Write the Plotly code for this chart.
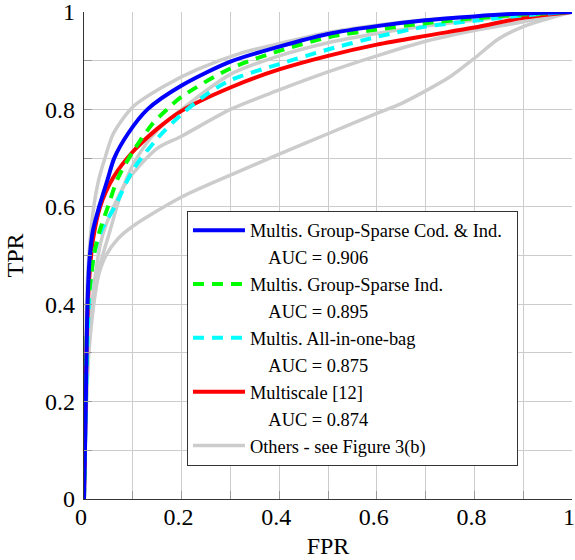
import plotly.graph_objects as go

# ---- data ----
blue_fpr = [0, 0.003, 0.006, 0.009, 0.012, 0.018, 0.031, 0.048, 0.062, 0.09, 0.13, 0.2, 0.3, 0.4, 0.5, 0.6, 0.7, 0.8, 0.9, 1]
blue_tpr = [0, 0.15, 0.35, 0.45, 0.5, 0.55, 0.6, 0.655, 0.7, 0.75, 0.8, 0.849, 0.898, 0.929, 0.955, 0.971, 0.983, 0.991, 0.997, 1]

green_fpr = [0, 0.004, 0.008, 0.015, 0.02, 0.032, 0.049, 0.07, 0.1, 0.14, 0.17, 0.2, 0.3, 0.4, 0.5, 0.6, 0.7, 0.8, 0.9, 1]
green_tpr = [0, 0.25, 0.4, 0.46, 0.5, 0.55, 0.6, 0.66, 0.713, 0.77, 0.8, 0.826, 0.884, 0.92, 0.948, 0.964, 0.977, 0.987, 0.995, 1]

cyan_fpr = [0, 0.004, 0.008, 0.012, 0.02, 0.035, 0.063, 0.1, 0.15, 0.2, 0.25, 0.3, 0.4, 0.5, 0.6, 0.7, 0.8, 0.9, 1]
cyan_tpr = [0, 0.2, 0.35, 0.43, 0.5, 0.55, 0.6, 0.675, 0.74, 0.79, 0.83, 0.86, 0.893, 0.923, 0.949, 0.97, 0.982, 0.993, 1]

red_fpr = [0, 0.004, 0.008, 0.012, 0.018, 0.033, 0.06, 0.1, 0.15, 0.2, 0.3, 0.4, 0.5, 0.6, 0.7, 0.8, 0.9, 1]
red_tpr = [0, 0.25, 0.4, 0.47, 0.53, 0.6, 0.66, 0.713, 0.76, 0.797, 0.845, 0.882, 0.91, 0.933, 0.951, 0.968, 0.988, 1]

others = [
    ([0, 0.002, 0.005, 0.01, 0.02, 0.03, 0.043, 0.06, 0.1, 0.163, 0.23, 0.32, 0.4, 0.5, 0.6, 0.7, 0.8, 0.9, 1],
     [0, 0.2, 0.4, 0.5, 0.6, 0.655, 0.7, 0.75, 0.805, 0.847, 0.881, 0.915, 0.935, 0.958, 0.973, 0.984, 0.991, 0.997, 1]),
    ([0, 0.005, 0.012, 0.019, 0.03, 0.053, 0.08, 0.108, 0.15, 0.2, 0.3, 0.4, 0.5, 0.6, 0.7, 0.8, 0.9, 1],
     [0, 0.25, 0.36, 0.41, 0.47, 0.55, 0.64, 0.7, 0.757, 0.8, 0.872, 0.91, 0.937, 0.956, 0.971, 0.983, 0.993, 1]),
    ([0, 0.005, 0.012, 0.022, 0.035, 0.056, 0.09, 0.15, 0.2, 0.3, 0.4, 0.5, 0.6, 0.7, 0.8, 0.9, 1],
     [0, 0.2, 0.35, 0.45, 0.53, 0.59, 0.655, 0.72, 0.745, 0.8, 0.84, 0.877, 0.91, 0.94, 0.962, 0.98, 1]),
    ([0, 0.005, 0.01, 0.02, 0.03, 0.045, 0.07, 0.1, 0.2, 0.3, 0.4, 0.5, 0.6, 0.65, 0.7, 0.75, 0.8, 0.85, 0.9, 0.95, 1],
     [0, 0.2, 0.3, 0.4, 0.46, 0.5, 0.535, 0.56, 0.62, 0.665, 0.708, 0.75, 0.792, 0.812, 0.838, 0.867, 0.905, 0.945, 0.97, 0.986, 1]),
]

names = ["Multis. Group-Sparse Cod. & Ind.\u00a0\u00a0", "Multis. Group-Sparse Ind.", "Multis. All-in-one-bag", "Multiscale [12]"]
aucs = ["0.906", "0.895", "0.875", "0.874"]
others_name = "Others - see Figure 3(b)"
tick_vals = [0, 0.2, 0.4, 0.6, 0.8, 1]
tick_text = ["0", "0.2", "0.4", "0.6", "0.8", "1"]

GRAY = "#cccccc"
SERIF = "Liberation Serif"

fig = go.Figure()

for i, (xs, ys) in enumerate(others):
    fig.add_trace(go.Scatter(x=xs, y=ys, mode="lines", line=dict(color=GRAY, width=3.5, shape="spline", smoothing=0.8),
                             name=others_name, showlegend=(i == 0), legendrank=9))

main = [
    (red_fpr, red_tpr, "#ff0000", "solid", 7),
    (cyan_fpr, cyan_tpr, "#00ffff", "11px,8px", 5),
    (green_fpr, green_tpr, "#00ff00", "11px,8px", 3),
    (blue_fpr, blue_tpr, "#0000ff", "solid", 1),
]
label_idx = {7: 3, 5: 2, 3: 1, 1: 0}
for xs, ys, col, dash, rank in main:
    k = label_idx[rank]
    fig.add_trace(go.Scatter(x=xs, y=ys, mode="lines",
                             line=dict(color=col, width=4, dash=dash, shape="spline", smoothing=0.8),
                             name=names[k], legendrank=rank))
    fig.add_trace(go.Scatter(x=[None], y=[None], mode="lines", line=dict(color="rgba(0,0,0,0)", width=1),
                             name="\u00a0\u00a0\u00a0\u00a0AUC = " + aucs[k], legendrank=rank + 1,
                             hoverinfo="skip"))

axis_common = dict(
    range=[0, 1], tickvals=tick_vals, ticktext=tick_text,
    showgrid=True, gridcolor=GRAY, gridwidth=1,
    minor=dict(dtick=0.1, showgrid=True, gridcolor=GRAY, gridwidth=1, ticks="inside", ticklen=8, tickcolor="#999999"),
    ticks="inside", ticklen=8, tickcolor="#999999",
    showline=True, linecolor="#333333", linewidth=1.2,
    zeroline=False, tickfont=dict(family=SERIF, size=24, color="#000"),
    fixedrange=True, automargin=False, ticklabeloverflow="allow",
)

fig.update_layout(
    width=575, height=560,
    margin=dict(l=84, r=3, t=12, b=61),
    paper_bgcolor="white", plot_bgcolor="white",
    font=dict(family=SERIF, color="#000"),
    showlegend=True,
    legend=dict(x=0.211, y=0.592, xanchor="left", yanchor="top",
                bgcolor="white", bordercolor="#333333", borderwidth=1,
                font=dict(family=SERIF, size=18.4, color="#000"),
                itemwidth=52, traceorder="normal"),
    xaxis=dict(**axis_common, ticklabelstandoff=-4, ticklabelshift=-3,
               title=dict(text="FPR", font=dict(family=SERIF, size=24, color="#000"), standoff=8)),
    yaxis=dict(**axis_common, ticklabelstandoff=3,
               title=dict(text="TPR", font=dict(family=SERIF, size=24, color="#000"), standoff=14)),
)

fig.write_html("out.html", post_script="document.body.style.margin='0';",
               config={"displayModeBar": False, "staticPlot": True})
